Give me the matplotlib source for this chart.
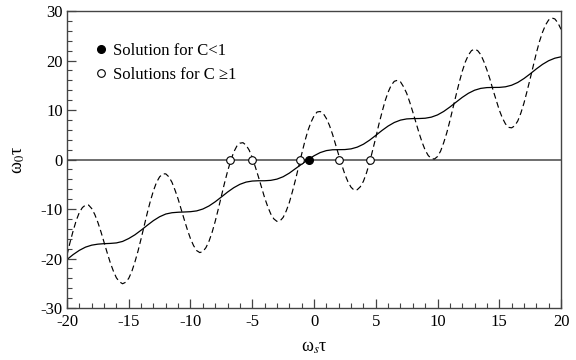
import numpy as np
import matplotlib
matplotlib.use("Agg")
import matplotlib.pyplot as plt
from matplotlib.ticker import MultipleLocator

# values (omega_s tau on x, omega_0 tau on y)
x_dash = np.arange(-20, 20.01, 0.25)
y_dash = [-19.3, -16.7, -14.4, -12.3, -10.7, -9.7, -9.2, -9.2, -9.9, -11.1,
          -12.7, -14.6, -16.7, -18.8, -20.8, -22.5, -23.9, -24.7, -25.1, -24.8,
          -24.0, -22.6, -20.7, -18.5, -16.0, -13.4, -10.8, -8.4, -6.3, -4.6,
          -3.5, -2.9, -2.9, -3.5, -4.6, -6.2, -8.0, -10.1, -12.2, -14.2,
          -16.0, -17.4, -18.4, -18.8, -18.6, -17.8, -16.5, -14.7, -12.5, -10.0,
          -7.4, -4.8, -2.4, -0.3, 1.5, 2.7, 3.3, 3.4, 2.9, 1.9,
          0.4, -1.5, -3.5, -5.6, -7.7, -9.5, -11.0, -12.0, -12.5, -12.4,
          -11.7, -10.4, -8.7, -6.5, -4.1, -1.5, 1.1, 3.6, 5.8, 7.5,
          8.8, 9.6, 9.7, 9.3, 8.3, 6.9, 5.1, 3.0, 0.9, -1.1,
          -3.0, -4.5, -5.6, -6.2, -6.1, -5.5, -4.4, -2.7, -0.6, 1.9,
          4.4, 7.1, 9.5, 11.8, 13.6, 15.0, 15.8, 16.0, 15.7, 14.7,
          13.4, 11.6, 9.6, 7.5, 5.4, 3.5, 1.9, 0.8, 0.2, 0.1,
          0.6, 1.7, 3.4, 5.4, 7.8, 10.4, 13.0, 15.5, 17.8, 19.7,
          21.1, 22.0, 22.3, 22.0, 21.2, 19.8, 18.1, 16.2, 14.0, 12.0,
          10.0, 8.4, 7.2, 6.5, 6.4, 6.8, 7.8, 9.4, 11.4, 13.8,
          16.3, 18.9, 21.5, 23.8, 25.7, 27.2, 28.2, 28.6, 28.4, 27.6, 26.3]

x_solid = np.arange(-20, 20.01, 0.5)
y_solid = [-20.20, -19.20, -18.35, -17.70, -17.30, -17.10, -17.00, -16.95, -16.85, -16.55,
           -15.96, -15.21, -14.28, -13.29, -12.34, -11.56, -11.01, -10.75, -10.65, -10.60,
           -10.54, -10.38, -10.00, -9.38, -8.54, -7.57, -6.58, -5.70, -5.01, -4.56,
           -4.35, -4.29, -4.29, -4.21, -3.96, -3.48, -2.75, -1.84, -0.95, -0.05,
           0.75, 1.40, 1.80, 1.97, 1.99, 2.01, 2.15, 2.50, 3.09, 3.91,
           4.87, 5.86, 6.76, 7.48, 7.96, 8.20, 8.27, 8.28, 8.34, 8.56,
           9.01, 9.71, 10.60, 11.58, 12.55, 13.38, 14.00, 14.37, 14.53, 14.56,
           14.57, 14.69, 15.01, 15.57, 16.36, 17.30, 18.30, 19.22, 19.96, 20.47, 20.75]

sol_small_x = [-0.4]
sol_big_x = [-6.79, -5.06, -1.17, 2.01, 4.52]

plt.rcParams["font.family"] = ["Liberation Serif", "DejaVu Serif"]
plt.rcParams["mathtext.fontset"] = "stix"
plt.rcParams["axes.unicode_minus"] = False

fig = plt.figure(figsize=(5.76, 3.6), dpi=100)
ax = fig.add_axes([0.1163, 0.1444, 0.8577, 0.825])

ax.axhline(0, color="#555555", lw=1.2, zorder=1)
ax.plot(x_dash, y_dash, color="black", lw=0.85, ls=(0, (5, 3)), zorder=2)
ax.plot(x_solid, y_solid, color="black", lw=0.9, zorder=2)
ax.plot(sol_big_x, [0] * len(sol_big_x), "o", ms=5.5, mfc="white", mec="black",
        mew=0.8, ls="none", zorder=3, label="Solutions for C \u22651")
ax.plot(sol_small_x, [0] * len(sol_small_x), "o", ms=5.5, mfc="black", mec="black",
        ls="none", zorder=4, label="Solution for C<1")

ax.set_xlim(-20, 20)
ax.set_ylim(-30, 30)
ax.xaxis.set_major_locator(MultipleLocator(5))
ax.xaxis.set_minor_locator(MultipleLocator(1))
ax.yaxis.set_major_locator(MultipleLocator(10))
ax.yaxis.set_minor_locator(MultipleLocator(2))
ax.tick_params(which="both", direction="in", top=False, right=False, labelsize=12,
               color="#444444")
ax.tick_params(which="major", length=6.5, width=0.9)
ax.tick_params(which="minor", length=3.3, width=0.8)
ax.tick_params(axis="x", pad=4)
ax.tick_params(axis="y", pad=3)
for s in ax.spines.values():
    s.set_color("#444444")
    s.set_linewidth(1.0)

ax.set_xlabel("\u03c9$_{s}$\u03c4", fontsize=13, labelpad=7)
ax.set_ylabel("\u03c9$_{0}$\u03c4", fontsize=13, labelpad=10)

h, l = ax.get_legend_handles_labels()
ax.legend(h[::-1], l[::-1], loc="upper left", frameon=False, fontsize=12,
          handlelength=0.6, handletextpad=0.45, borderaxespad=0.0,
          bbox_to_anchor=(0.045, 0.915), labelspacing=0.5)

fig.savefig("out.png", dpi=100)
